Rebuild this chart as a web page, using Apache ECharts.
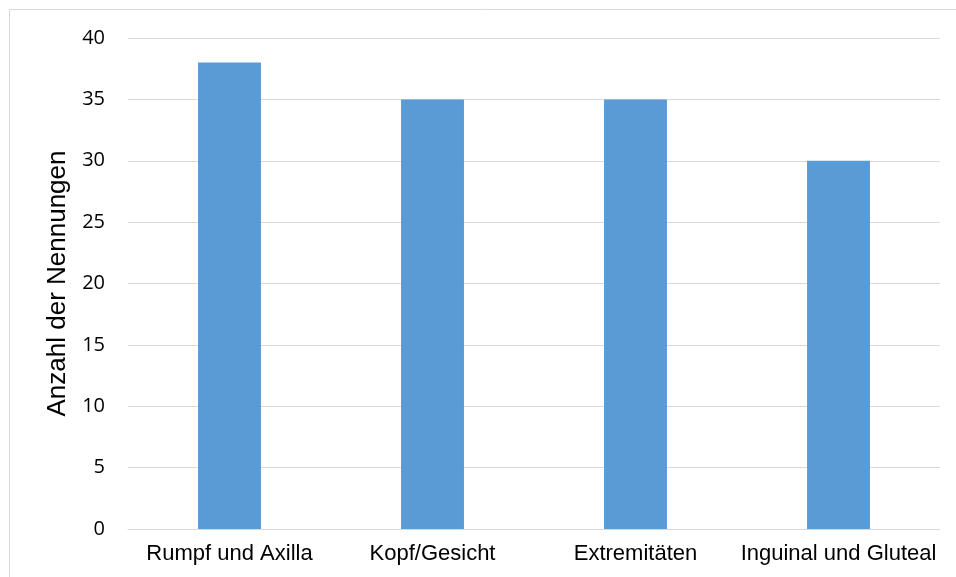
<!DOCTYPE html>
<html>
<head>
<meta charset="utf-8">
<script src="https://cdn.jsdelivr.net/npm/echarts@6/dist/echarts.min.js"></script>
<style>
html,body{margin:0;padding:0;background:#fff;}
#chart{width:956px;height:577px;}
</style>
</head>
<body>
<div id="chart"></div>
<script>
// Body regions and number of mentions per region
const categories = ['Rumpf und Axilla', 'Kopf/Gesicht', 'Extremitäten', 'Inguinal und Gluteal'];
const mentions = [38, 35, 35, 30];
const yTicks = { min: 0, max: 40, step: 5 };
const yTitle = 'Anzahl der Nennungen';

const chart = echarts.init(document.getElementById('chart'), null, { renderer: 'canvas' });
chart.setOption({
  animation: false,
  backgroundColor: '#fff',
  graphic: [{
    type: 'rect',
    shape: { x: 9.5, y: 9.5, width: 1000, height: 1000 },
    style: { fill: 'none', stroke: '#d9d9d9', lineWidth: 1 },
    silent: true
  }],
  grid: { left: 128, right: 16, top: 38, bottom: 48, containLabel: false },
  xAxis: {
    type: 'category',
    data: categories,
    axisLine: { show: true, lineStyle: { color: '#d9d9d9', width: 1 } },
    axisTick: { show: false },
    axisLabel: { interval: 0, hideOverlap: false, color: '#000', fontFamily: 'Liberation Sans, Arial', fontSize: 22, margin: 14 }
  },
  yAxis: {
    type: 'value',
    min: yTicks.min, max: yTicks.max, interval: yTicks.step,
    name: yTitle,
    nameLocation: 'middle',
    nameGap: 56,
    nameTextStyle: { color: '#000', fontFamily: 'Liberation Sans, Arial', fontSize: 26 },
    axisLine: { show: false },
    axisTick: { show: false },
    splitLine: { lineStyle: { color: '#d9d9d9', width: 1 } },
    axisLabel: { color: '#000', fontFamily: 'Open Sans, Noto Sans, sans-serif', fontSize: 20, margin: 23 }
  },
  series: [{
    type: 'bar',
    data: mentions,
    barWidth: '31%',
    itemStyle: { color: '#5b9bd5' }
  }]
});
</script>
</body>
</html>
